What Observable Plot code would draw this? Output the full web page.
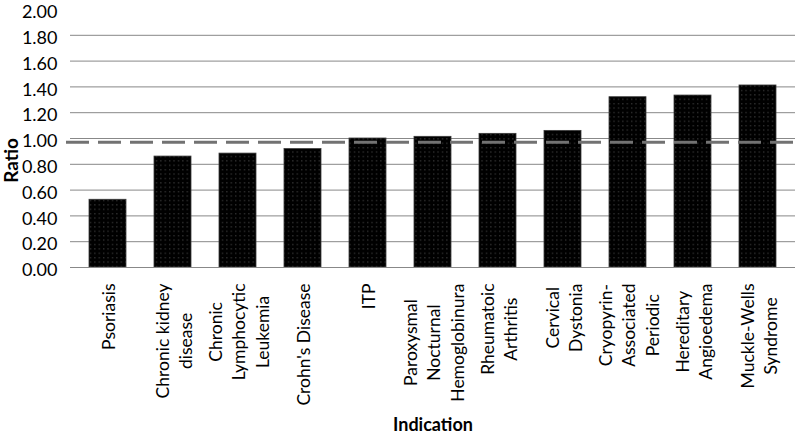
<!DOCTYPE html>
<html><head><meta charset="utf-8">
<script src="https://cdn.jsdelivr.net/npm/d3@7"></script>
<script src="https://cdn.jsdelivr.net/npm/@observablehq/plot@0.6"></script>
<style>
html,body{margin:0;padding:0;background:#fff;}
</style></head><body><div id="chart"></div>
<script>
const categories = [
  "Psoriasis",
  "Chronic kidney\ndisease",
  "Chronic\nLymphocytic\nLeukemia",
  "Crohn's Disease",
  "ITP",
  "Paroxysmal\nNocturnal\nHemoglobinura",
  "Rheumatoic\nArthritis",
  "Cervical\nDystonia",
  "Cryopyrin-\nAssociated\nPeriodic",
  "Hereditary\nAngioedema",
  "Muckle-Wells\nSyndrome"
];
const ratios = [0.525, 0.86, 0.883, 0.918, 1.0, 1.013, 1.036, 1.059, 1.32, 1.333, 1.411];
const yTicks = [0, 0.2, 0.4, 0.6, 0.8, 1.0, 1.2, 1.4, 1.6, 1.8, 2.0];
const referenceValue = [0.97];
const yLabel = "Ratio";
const xLabel = "Indication";

const data = categories.map((c, i) => ({category: c, ratio: ratios[i]}));

const FONT = "Lato, sans-serif";
const LABEL_SIZE = 17.5;
const ctx = document.createElement("canvas").getContext("2d");
ctx.font = `${LABEL_SIZE}px Lato`;
const maxLineWidth = (s) => Math.max(...s.split("\n").map(l => ctx.measureText(l).width));

const chart = Plot.plot({
  width: 797, height: 436,
  marginLeft: 70, marginRight: 2, marginTop: 9, marginBottom: 169,
  x: {domain: categories, padding: 0, axis: null},
  y: {domain: [0, 2], axis: null},
  style: {fontFamily: FONT, fontSize: "17px", color: "#000", background: "#fff"},
  marks: [
    Plot.ruleY(yTicks.filter(d => d > 0 && d < 2), {stroke: "#888", strokeWidth: 1}),
    Plot.barY(data, {x: "category", y: "ratio", fill: "url(#dotfill)", stroke: "#3a3a3a", strokeWidth: 0.8, insetLeft: 14, insetRight: 14}),
    Plot.ruleY([0], {stroke: "#888", strokeWidth: 1}),
    Plot.ruleY(referenceValue, {stroke: "#727272", strokeWidth: 3, strokeDasharray: "23,9", insetLeft: -4}),
    Plot.text(yTicks, {y: d => d, text: d => d.toFixed(2), frameAnchor: "left", textAnchor: "end", lineAnchor: "middle", dx: -13, dy: 3, fontSize: 18, fill: "#000"}),
    ...categories.map(c => Plot.text([c], {
      x: d => d, text: d => d, frameAnchor: "bottom", rotate: -90,
      textAnchor: "middle", lineAnchor: "middle", lineHeight: 1.33,
      dy: 16 + maxLineWidth(c) / 2, fontSize: LABEL_SIZE, fill: "#000"
    })),
    Plot.text([yLabel], {frameAnchor: "left", rotate: -90, textAnchor: "middle", lineAnchor: "middle", dx: -59, dy: 22, fontWeight: "bold", fontSize: 19, fill: "#000"}),
    Plot.text([xLabel], {frameAnchor: "bottom", lineAnchor: "middle", dy: 158, fontWeight: "bold", fontSize: 18, fill: "#000"})
  ]
});

const ns = "http://www.w3.org/2000/svg";
const defs = document.createElementNS(ns, "defs");
defs.innerHTML = '<pattern id="dotfill" width="4.4" height="4.4" patternUnits="userSpaceOnUse">' +
  '<rect width="4.4" height="4.4" fill="#000"/><rect x="2" y="2" width="1" height="1" fill="#5a5a5a"/></pattern>';
chart.insertBefore(defs, chart.firstChild);
document.getElementById("chart").appendChild(chart);
</script>
</body></html>
